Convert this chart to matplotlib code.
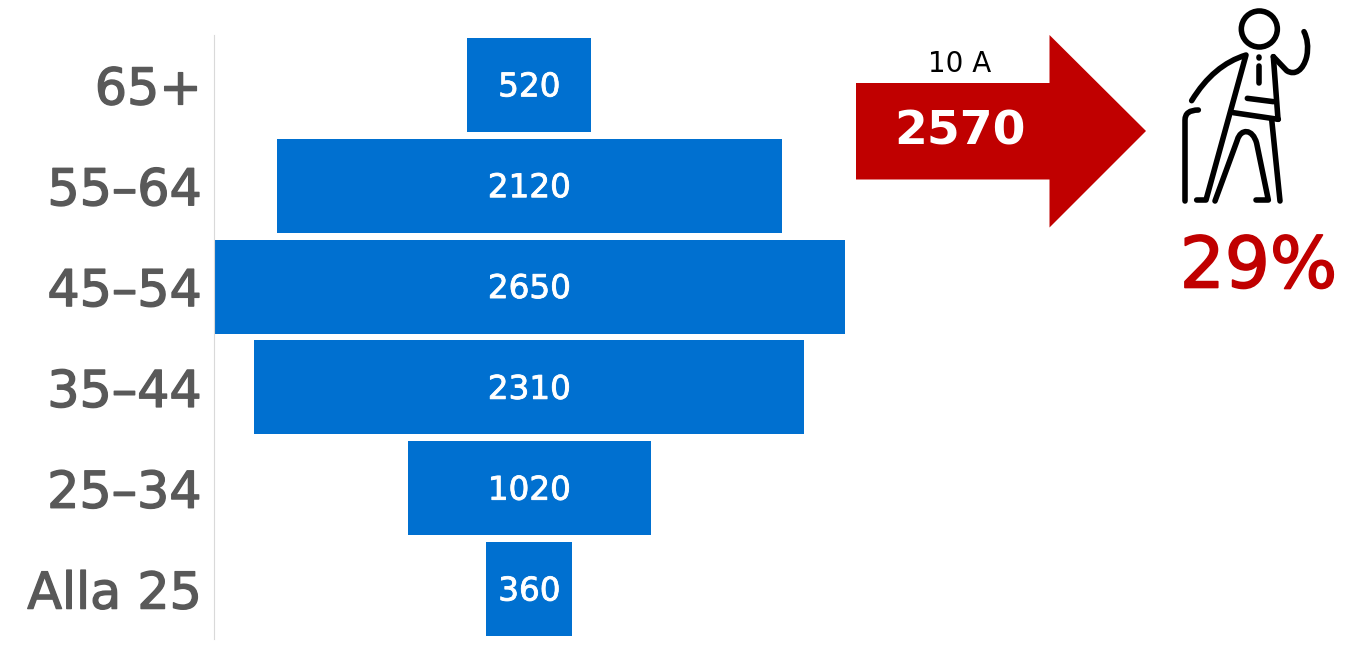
#!/usr/bin/env python

import matplotlib
matplotlib.use('Agg')
import matplotlib.pyplot as plt
import matplotlib.patheffects as pe
from matplotlib.path import Path
from matplotlib.patches import PathPatch, Polygon, Circle

ages = ["Alla 25", "25\u201334", "35\u201344", "45\u201354", "55\u201364", "65+"]
values = [360, 1020, 2310, 2650, 2120, 520]
bar_labels = ["360", "1020", "2310", "2650", "2120", "520"]
arrow_top = "10 A"
arrow_value = "2570"
share = "29%"

BLUE = '#0070d0'
RED = '#c00000'
GREY = '#595959'
FONT = 'DejaVu Sans'

W, H = 1357, 650
fig = plt.figure(figsize=(W / 100, H / 100), dpi=100)

# the reference font is a bit heavier than DejaVu regular
def heavier(color, width):
    return [pe.withStroke(linewidth=width, foreground=color)]

# chart axes, placed in pixels
left, right, top, bottom = 213.6, 845, 34.5, 639.5
ax = fig.add_axes([left / W, 1 - bottom / H, (right - left) / W, (bottom - top) / H])
ax.barh(range(len(values)), values, left=[-v / 2 for v in values], height=0.932,
        color=BLUE, linewidth=0)
ax.set_xlim(-2650 / 2, 2650 / 2)
ax.set_ylim(-0.5, 5.5)
ax.set_yticks(range(len(ages)))
ax.set_yticklabels(ages, fontsize=36.5, color=GREY, family=FONT,
                   path_effects=heavier(GREY, 1.0))
ax.tick_params(axis='y', length=0, pad=8.5)
ax.set_xticks([])
for s in ['top', 'right', 'bottom']:
    ax.spines[s].set_visible(False)
ax.spines['left'].set_color('#d9d9d9')
ax.spines['left'].set_linewidth(0.8)

for i, label in enumerate(bar_labels):
    ax.annotate(label, (0, i), xytext=(0, -1.4), textcoords='offset points',
                color='white', fontsize=23.5, ha='center', va='center', family=FONT,
                path_effects=heavier('white', 0.6))

# overlay in pixel coordinates for arrow and icon
ov = fig.add_axes([0, 0, 1, 1])
ov.set_xlim(0, W)
ov.set_ylim(H, 0)
ov.axis('off')
ov.patch.set_alpha(0)

ov.add_patch(Polygon([(856, 83), (1049.5, 83), (1049.5, 35), (1146, 131),
                      (1049.5, 227.5), (1049.5, 179.5), (856, 179.5)],
                     closed=True, facecolor=RED, edgecolor='none'))
ov.text(960, 64, arrow_top, color='black', fontsize=20, ha='center', va='center', family=FONT)
ov.text(960.5, 132, arrow_value, color='white', fontsize=34, fontweight='bold',
        ha='center', va='center', family=FONT)
ov.text(1258.5, 268, share, color=RED, fontsize=51, ha='center', va='center', family=FONT,
        path_effects=heavier(RED, 1.2))

def ic(x, y):
    return (1150 + x / 3, y / 3)

M, L, Q, C = Path.MOVETO, Path.LINETO, Path.CURVE3, Path.CURVE4
strokes = [
    ([(125, 302), (190, 195), (288, 165), (168, 600), (140, 600)], [M, Q, Q, L, L]),
    ([(370, 170), (384, 358)], [M, L]),
    ([(370, 170), (410, 212), (435, 228), (460, 210), (470, 170), (476, 140), (472, 115), (462, 95)],
     [M, L, C, C, C, C, C, C]),
    ([(250, 338), (385, 358)], [M, L]),
    ([(292, 295), (370, 305)], [M, L]),
    ([(365, 358), (390, 603)], [M, L]),
    ([(318, 600), (355, 600), (320, 430), (308, 385), (272, 385), (262, 420), (195, 603)],
     [M, L, L, C, C, C, L]),
    ([(328, 172), (328, 173)], [M, L]),
    ([(328, 197), (328, 250)], [M, L]),
    ([(105, 603), (105, 360), (105, 330), (145, 330)], [M, L, Q, Q]),
]
for pts, codes in strokes:
    ov.add_patch(PathPatch(Path([ic(*p) for p in pts], codes), facecolor='none',
                           edgecolor='black', linewidth=4.0, capstyle='round',
                           joinstyle='round'))
ov.add_patch(Circle(ic(328, 87), 18, facecolor='none', edgecolor='black', linewidth=4.0))

plt.savefig("out.png", format='png', dpi=100)
